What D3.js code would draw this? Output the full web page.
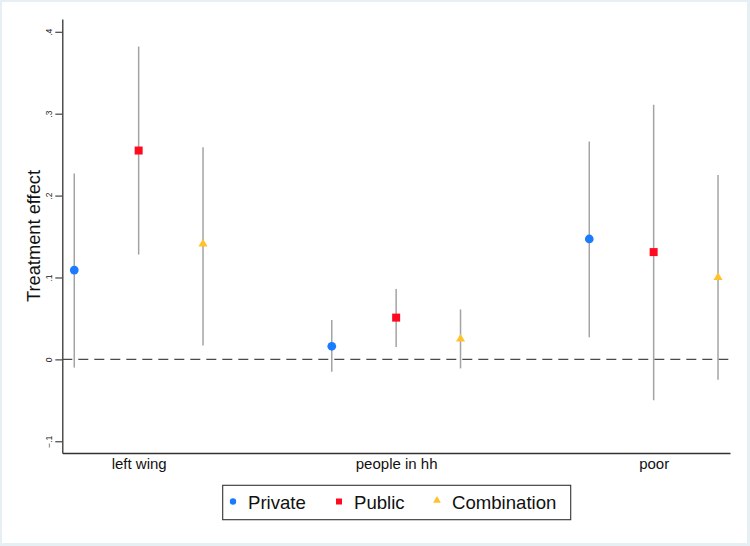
<!DOCTYPE html>
<html>
<head>
<meta charset="utf-8">
<script src="https://cdn.jsdelivr.net/npm/d3@7"></script>
<style>
  html, body { margin: 0; padding: 0; background: #e6eff4; }
  svg { display: block; font-family: "Liberation Sans", Helvetica, Arial, sans-serif; }
</style>
</head>
<body>
<svg width="750" height="546"></svg>
<script>
"use strict";

// groups on the x axis, and the three treatments
const groups = ["left wing", "people in hh", "poor"];
const groupPos = [2, 6, 10];
const series = ["Private", "Public", "Combination"];
const colors = ["#1a7bff", "#ff0a1e", "#ffc22d"];

// point estimates and 95% CI, one value per group
const estPrivate = [0.109, 0.016, 0.147];
const loPrivate = [-0.010, -0.015, 0.027];
const hiPrivate = [0.227, 0.048, 0.266];

const estPublic = [0.255, 0.051, 0.131];
const loPublic = [0.128, 0.015, -0.050];
const hiPublic = [0.382, 0.086, 0.311];

const estComb = [0.141, 0.025, 0.100];
const loComb = [0.017, -0.011, -0.025];
const hiComb = [0.259, 0.061, 0.225];

const yTicks = [-0.1, 0, 0.1, 0.2, 0.3, 0.4];

/////////////////////////////////////////////////////
// setup
/////////////////////////////////////////////////////
const svg = d3.select("svg");

svg.append("rect")
  .attr("x", 2).attr("y", 2)
  .attr("width", 745).attr("height", 541)
  .attr("fill", "white");

const x = d3.scaleLinear().domain([0.814, 11.186]).range([62.3, 730]);
const y = d3.scaleLinear().domain([-0.1143, 0.4156]).range([453, 19]);

const allSeries = [
  { est: estPrivate, lo: loPrivate, hi: hiPrivate, off: -1, sym: d3.symbolCircle, size: 60 },
  { est: estPublic, lo: loPublic, hi: hiPublic, off: 0, sym: d3.symbolSquare, size: 64 },
  { est: estComb, lo: loComb, hi: hiComb, off: 1, sym: d3.symbolTriangle, size: 36 }
];

/////////////////////////////////////////////////////
// axes
/////////////////////////////////////////////////////
const yAxis = svg.append("g")
  .attr("transform", `translate(${x.range()[0]},0)`)
  .call(d3.axisLeft(y)
    .tickValues(yTicks)
    .tickSize(7)
    .tickSizeOuter(0)
    .tickFormat((d) => d === 0 ? "0" : d3.format(".1f")(d).replace("0.", ".")));
yAxis.select(".domain").attr("stroke", "#333").attr("stroke-width", 1.3);
yAxis.selectAll(".tick line").attr("stroke", "#333").attr("stroke-width", 1.1);
yAxis.selectAll(".tick text")
  .attr("transform", "rotate(-90)")
  .attr("x", 0)
  .attr("y", -10)
  .attr("dy", 0)
  .attr("text-anchor", "middle")
  .attr("font-size", 8.5)
  .attr("fill", "#222");

const xAxis = svg.append("g")
  .attr("transform", `translate(0,${y.range()[0]})`)
  .call(d3.axisBottom(x)
    .tickValues(groupPos)
    .tickSize(0)
    .tickSizeOuter(0)
    .tickPadding(5)
    .tickFormat((d, i) => groups[i]));
xAxis.select(".domain").attr("stroke", "#333").attr("stroke-width", 1.3);
xAxis.selectAll(".tick text").attr("font-size", 15).attr("fill", "#111");

svg.append("text")
  .attr("transform", `translate(40,${(y.range()[0] + y.range()[1]) / 2}) rotate(-90)`)
  .attr("text-anchor", "middle")
  .attr("font-size", 18.3)
  .attr("fill", "#111")
  .text("Treatment effect");

// zero line
svg.append("line")
  .attr("x1", x.range()[0]).attr("x2", x.range()[1])
  .attr("y1", y(0)).attr("y2", y(0))
  .attr("stroke", "#4a4a4a")
  .attr("stroke-width", 1.3)
  .attr("stroke-dasharray", "10,6");

/////////////////////////////////////////////////////
// CI spikes and markers
/////////////////////////////////////////////////////
allSeries.forEach((s, si) => {
  const g = svg.append("g");
  g.selectAll("line")
    .data(groupPos)
    .enter()
    .append("line")
    .attr("x1", (d) => x(d + s.off))
    .attr("x2", (d) => x(d + s.off))
    .attr("y1", (d, i) => y(s.lo[i]))
    .attr("y2", (d, i) => y(s.hi[i]))
    .attr("stroke", "#a3a3a3")
    .attr("stroke-width", 1.5);
  g.selectAll("path")
    .data(groupPos)
    .enter()
    .append("path")
    .attr("d", d3.symbol().type(s.sym).size(s.size))
    .attr("transform", (d, i) => `translate(${x(d + s.off)},${y(s.est[i])})`)
    .attr("fill", colors[si]);
});

/////////////////////////////////////////////////////
// legend
/////////////////////////////////////////////////////
const legend = svg.append("g");
legend.append("rect")
  .attr("x", 222.7).attr("y", 485.3)
  .attr("width", 348).attr("height", 34.4)
  .attr("fill", "white")
  .attr("stroke", "#333")
  .attr("stroke-width", 1.1);

const legX = [233, 339, 437];
const legSym = [
  { sym: d3.symbolCircle, size: 32 },
  { sym: d3.symbolSquare, size: 36 },
  { sym: d3.symbolTriangle, size: 26 }
];
series.forEach((name, i) => {
  legend.append("path")
    .attr("d", d3.symbol().type(legSym[i].sym).size(legSym[i].size))
    .attr("transform", `translate(${legX[i]},${i === 2 ? 500.5 : 501.5})`)
    .attr("fill", colors[i]);
  legend.append("text")
    .attr("x", legX[i] + 15)
    .attr("y", 508.5)
    .attr("font-size", 18.6)
    .attr("fill", "#111")
    .text(name);
});
</script>
</body>
</html>
